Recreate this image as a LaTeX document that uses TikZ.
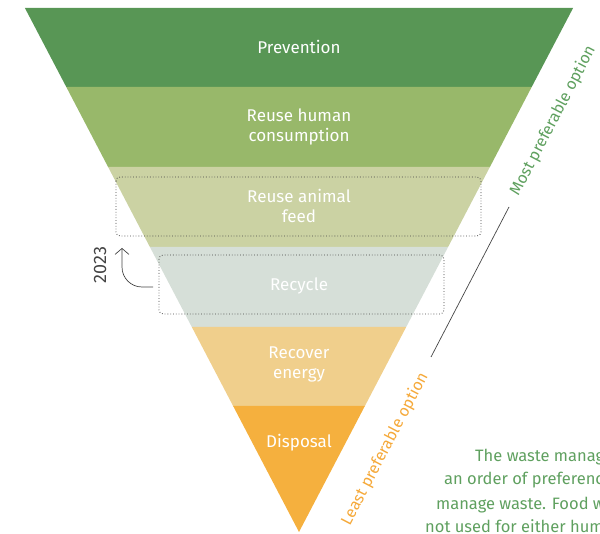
\documentclass[tikz,border=0pt]{standalone}
\usepackage{fontspec}
\setmainfont{Fira Sans}
\usetikzlibrary{arrows.meta}
\definecolor{cPrev}{HTML}{589655}
\definecolor{cHum}{HTML}{98B86A}
\definecolor{cAni}{HTML}{CBD2A3}
\definecolor{cRec}{HTML}{D6DFD8}
\definecolor{cEne}{HTML}{F0CF8C}
\definecolor{cDis}{HTML}{F5B03E}
\definecolor{cGreenTxt}{HTML}{5FA05F}
\definecolor{cOrangeTxt}{HTML}{F5A93A}
\definecolor{cDark}{HTML}{444444}
\tikzset{
  band/.style={draw=none},
  bandlabel/.style={text=white, align=center, font=\fontsize{17}{20}\selectfont, inner sep=0pt},
  dotbox/.style={draw=cDark, dotted, line width=0.8pt, rounded corners=4pt},
  sidelabel/.style={font=\fontsize{16}{18}\selectfont, rotate=62.4, inner sep=0pt},
  bodytext/.style={text=cGreenTxt, font=\fontsize{16.5}{19}\selectfont, anchor=base west, inner sep=0pt}
}
\begin{document}
\begin{tikzpicture}[x=1pt,y=-1pt]
\useasboundingbox (0,0) rectangle (600,534);
% bands
\fill[cPrev] (24.9,8) -- (573.1,8) -- (531.7,87) -- (66.3,87) -- cycle;
\fill[cHum] (66.3,87) -- (531.7,87) -- (489.9,167) -- (108.1,167) -- cycle;
\fill[cAni] (108.1,167) -- (489.9,167) -- (448.1,247) -- (149.9,247) -- cycle;
\fill[cRec] (149.9,247) -- (448.1,247) -- (406.2,327) -- (191.8,327) -- cycle;
\fill[cEne] (191.8,327) -- (406.2,327) -- (364.9,406) -- (233.1,406) -- cycle;
\fill[cDis] (233.1,406) -- (364.9,406) -- (299,532) -- cycle;
% labels
\node[bandlabel] (prev) at (299,47) {Prevention};
\node[bandlabel] (hum) at (299,127) {Reuse human\\consumption};
\node[bandlabel] (ani) at (299,206) {Reuse animal\\feed};
\node[bandlabel] (rec) at (299,286) {Recycle};
\node[bandlabel] (ene) at (299,364) {Recover\\energy};
\node[bandlabel] (dis) at (299,443) {Disposal};
% dotted boxes
\draw[dotbox] (116,177) rectangle (481,236);
\draw[dotbox] (159,255) rectangle (444,314);
% 2023 arrow
\coordinate (a0) at (153,287);
\coordinate (a1) at (122,248);
\draw[cDark, line width=0.7pt, -{Straight Barb[length=6pt,width=14pt]}] (a0) -- (142,287) to[out=180,in=-90] (122,267) -- (a1);
\node[text=cDark, font=\fontsize{18}{20}\selectfont, rotate=90, inner sep=0pt] (yr) at (100,265) {2023};
% diagonal line and side labels
\coordinate (l1) at (509,207);
\coordinate (l2) at (431,357);
\draw[cDark, line width=0.7pt] (l1) -- (l2);
\node[sidelabel, text=cGreenTxt] (most) at (553,121) {Most preferable option};
\node[sidelabel, text=cOrangeTxt] (least) at (385,449) {Least preferable option};
% body text (clipped)
\node[bodytext] (t1) at (475,462) {The waste manag};
\node[bodytext] (t2) at (444,485) {an order of preferenc};
\node[bodytext] (t3) at (436,509) {manage waste. Food w};
\node[bodytext] (t4) at (425,532) {not used for either hum};
\end{tikzpicture}
\end{document}
